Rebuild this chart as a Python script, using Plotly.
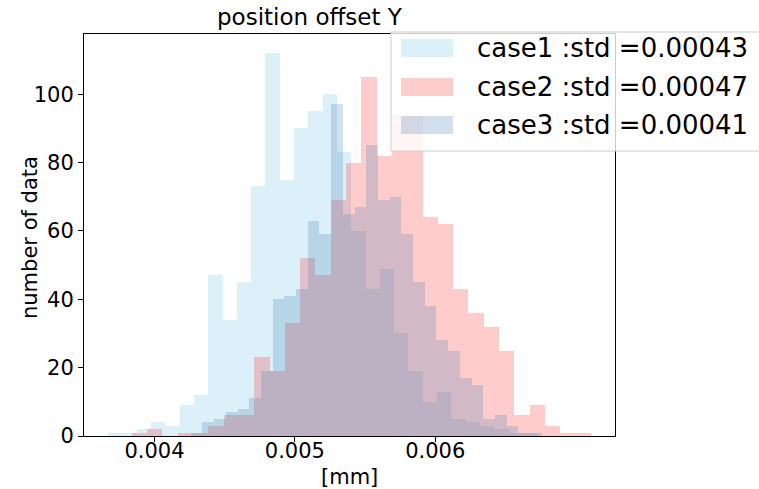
import plotly.graph_objects as go

# ---------------- data ----------------
labels = ["case1 :std =0.00043", "case2 :std =0.00047", "case3 :std =0.00041"]

case1_start = 0.0036701
case1_width = 0.00010189
case1_counts = [1, 1, 2, 4, 3, 9, 12, 47, 34, 45, 73, 112, 75, 90, 95,
                100, 83, 60, 43, 49, 30, 19, 10, 13, 5, 4, 3, 2, 1, 1]

case2_start = 0.0038390
case2_width = 0.00010901
case2_counts = [1, 2, 0, 1, 1, 3, 6, 6, 23, 19, 33, 52, 47, 69, 80,
                105, 82, 94, 94, 64, 62, 43, 36, 32, 25, 6, 9, 3, 1, 1]

case3_start = 0.0042586
case3_width = 0.00008336
case3_counts = [1, 4, 5, 7, 8, 11, 19, 40, 41, 43, 63, 59, 97, 65, 67,
                85, 69, 70, 59, 45, 38, 28, 25, 17, 15, 5, 6, 3, 1, 1]

x_ticks = [0.004, 0.005, 0.006]
x_tick_text = ["0.004", "0.005", "0.006"]
y_ticks = [0, 20, 40, 60, 80, 100]

colors = ["rgba(135,206,235,0.3)", "rgba(255,0,0,0.2)", "rgba(70,130,180,0.25)"]

# ---------------- figure ----------------
W, H = 759, 489
L, R, T, B = 84, 615, 34, 436  # plot area in pixels

def px(x):
    return (x - L) / (R - L)

def py(y):
    return (B - y) / (B - T)

fig = go.Figure()
series = [(case1_start, case1_width, case1_counts),
          (case2_start, case2_width, case2_counts),
          (case3_start, case3_width, case3_counts)]
for (s, w, c), col, lab in zip(series, colors, labels):
    centers = [s + w * (i + 0.5) for i in range(len(c))]
    fig.add_trace(go.Bar(x=centers, y=c, width=w, marker=dict(color=col, line=dict(width=0)),
                         name=lab, showlegend=False))

font = "DejaVu Sans"
fig.update_layout(
    width=W, height=H, barmode="overlay", bargap=0,
    margin=dict(l=L, r=W - R, t=T, b=H - B, pad=0, autoexpand=False),
    plot_bgcolor="white", paper_bgcolor="white",
    font=dict(family=font, size=21, color="black"),
    showlegend=False,
)
fig.update_xaxes(range=[0.003498, 0.007281], tickvals=x_ticks, ticktext=x_tick_text,
                 showline=True, linecolor="black", linewidth=1, mirror=True,
                 ticks="outside", ticklen=5, tickcolor="black", showgrid=False, zeroline=False,
                 tickfont=dict(size=21), automargin=False, ticklabelstandoff=-9)
fig.update_yaxes(range=[0, 117.6], tickvals=y_ticks,
                 showline=True, linecolor="black", linewidth=1, mirror=True,
                 ticks="outside", ticklen=5, tickcolor="black", showgrid=False, zeroline=False,
                 tickfont=dict(size=21), automargin=False)

# axis titles
fig.add_annotation(text="[mm]", xref="paper", yref="paper", x=px(349.5), y=py(477),
                   showarrow=False, font=dict(size=21), xanchor="center", yanchor="middle")
fig.add_annotation(text="number of data", xref="paper", yref="paper", x=px(30), y=py(238),
                   showarrow=False, font=dict(size=21), textangle=-90,
                   xanchor="center", yanchor="middle")

# title
fig.add_annotation(text="position offset Y", xref="paper", yref="paper",
                   x=px(310), y=py(17), showarrow=False, font=dict(size=23),
                   xanchor="center", yanchor="middle")

# legend (drawn manually to match frame style)
fig.add_shape(type="rect", xref="paper", yref="paper",
              x0=px(391), x1=px(770), y0=py(151), y1=py(32),
              fillcolor="rgba(255,255,255,0.8)", line=dict(color="rgba(204,204,204,1)", width=1),
              layer="above")
row_y = [48, 87, 125]
for lab, col, ry in zip(labels, colors, row_y):
    fig.add_shape(type="rect", xref="paper", yref="paper",
                  x0=px(401), x1=px(453), y0=py(ry + 9), y1=py(ry - 9),
                  fillcolor=col, line=dict(width=0), layer="above")
    fig.add_annotation(text=lab, xref="paper", yref="paper", x=px(475), y=py(ry),
                       showarrow=False, xanchor="left", yanchor="middle",
                       font=dict(size=26))

fig.write_html("out.html")
